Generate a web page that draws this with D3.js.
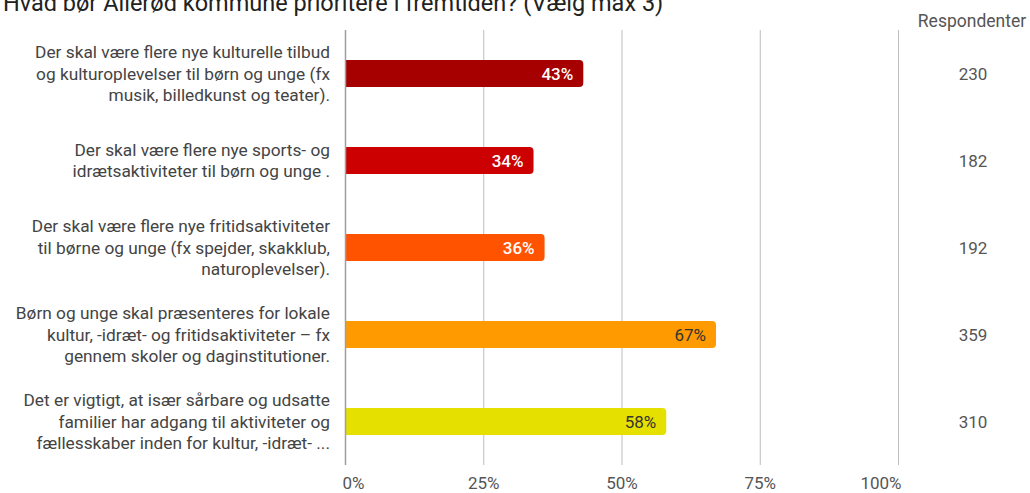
<!DOCTYPE html>
<html>
<head>
<meta charset="utf-8">
<script src="https://cdn.jsdelivr.net/npm/d3@7"></script>
<style>
  body { margin: 0; background: #fff; overflow: hidden; }
  svg { display: block; font-family: Roboto, "Noto Sans", sans-serif; }
</style>
</head>
<body>
<div id="chart"></div>
<script>
// categories (line breaks as in the picture)
const categories = [
  "Der skal være flere nye kulturelle tilbud\nog kulturoplevelser til børn og unge (fx\nmusik, billedkunst og teater).",
  "Der skal være flere nye sports- og\nidrætsaktiviteter til børn og unge .",
  "Der skal være flere nye fritidsaktiviteter\ntil børne og unge (fx spejder, skakklub,\nnaturoplevelser).",
  "Børn og unge skal præsenteres for lokale\nkultur, -idræt- og fritidsaktiviteter – fx\ngennem skoler og daginstitutioner.",
  "Det er vigtigt, at især sårbare og udsatte\nfamilier har adgang til aktiviteter og\nfællesskaber inden for kultur, -idræt- ..."
];
const shares = [0.43, 0.34, 0.36, 0.67, 0.58];
const respondents = [230, 182, 192, 359, 310];
const barColors = ["#a60000", "#cc0000", "#ff5300", "#ff9a00", "#e5e000"];
const labelColors = ["#fff", "#fff", "#fff", "#333", "#333"];
const ticks = [0, 0.25, 0.5, 0.75, 1];
const title = "Hvad bør Allerød kommune prioritere i fremtiden? (Vælg max 3)";

const width = 1030, height = 493;
const margin = {top: 30, right: 132, bottom: 28, left: 345.5};

const svg = d3.select("#chart").append("svg")
  .attr("width", width).attr("height", height);

const x = d3.scaleLinear()
  .domain([0, 1])
  .range([margin.left, width - margin.right + 0.5]);

const y = d3.scaleBand()
  .domain(d3.range(categories.length))
  .range([margin.top, height - margin.bottom])
  .paddingInner(0.69)
  .paddingOuter(0.345);

// title (partly cut off at the top, as in the source)
svg.append("text")
  .attr("x", 3).attr("y", 11)
  .attr("font-size", 23.5)
  .attr("fill", "#222")
  .text(title);

// gridlines
svg.append("g").selectAll("line")
  .data(ticks.slice(1))
  .join("line")
  .attr("x1", d => x(d)).attr("x2", d => x(d))
  .attr("y1", margin.top).attr("y2", height - margin.bottom)
  .attr("stroke", "#bdbdbd").attr("stroke-width", 1);

// tick labels
svg.append("g").selectAll("text")
  .data(ticks)
  .join("text")
  .attr("x", (d, i) => i === 0 ? x(d) - 3 : i === ticks.length - 1 ? x(d) + 3 : x(d))
  .attr("y", 489)
  .attr("text-anchor", (d, i) => i === 0 ? "start" : i === ticks.length - 1 ? "end" : "middle")
  .attr("font-size", 17)
  .attr("fill", "#555")
  .text(d => d3.format(".0%")(d));

// bars with rounded right end
const r = 4;
function barPath(v, i) {
  const x0 = x(0), x1 = x(v), y0 = y(i), h = y.bandwidth();
  return `M${x0},${y0}H${x1 - r}Q${x1},${y0} ${x1},${y0 + r}V${y0 + h - r}Q${x1},${y0 + h} ${x1 - r},${y0 + h}H${x0}Z`;
}

svg.append("g").selectAll("path")
  .data(shares)
  .join("path")
  .attr("d", (d, i) => barPath(d, i))
  .attr("fill", (d, i) => barColors[i]);

// value labels inside bars
svg.append("g").selectAll("text")
  .data(shares)
  .join("text")
  .attr("x", d => x(d) - 10)
  .attr("y", (d, i) => y(i) + y.bandwidth() / 2)
  .attr("dy", "0.36em")
  .attr("text-anchor", "end")
  .attr("font-size", 17)
  .attr("font-weight", (d, i) => i < 3 ? 500 : 400)
  .attr("fill", (d, i) => labelColors[i])
  .text(d => d3.format(".0%")(d));

// zero line
svg.append("line")
  .attr("x1", x(0)).attr("x2", x(0))
  .attr("y1", margin.top).attr("y2", height - margin.bottom)
  .attr("stroke", "#9e9e9e").attr("stroke-width", 1.5);

// category labels
const lineH = 21.5;
svg.append("g").selectAll("text")
  .data(categories)
  .join("text")
  .attr("text-anchor", "end")
  .attr("font-size", 17.3)
  .attr("fill", "#444")
  .each(function(d, i) {
    const lines = d.split("\n");
    const cy = y(i) + y.bandwidth() / 2;
    d3.select(this).selectAll("tspan")
      .data(lines)
      .join("tspan")
      .attr("x", 330)
      .attr("y", (l, j) => cy + (j - (lines.length - 1) / 2) * lineH)
      .attr("dy", "0.36em")
      .text(l => l);
  });

// respondent column
svg.append("text")
  .attr("x", 972).attr("y", 27)
  .attr("text-anchor", "middle")
  .attr("font-size", 17.5)
  .attr("fill", "#555")
  .text("Respondenter");

svg.append("g").selectAll("text")
  .data(respondents)
  .join("text")
  .attr("x", 973)
  .attr("y", (d, i) => y(i) + y.bandwidth() / 2)
  .attr("dy", "0.36em")
  .attr("text-anchor", "middle")
  .attr("font-size", 17)
  .attr("fill", "#555")
  .text(d => d);
</script>
</body>
</html>
